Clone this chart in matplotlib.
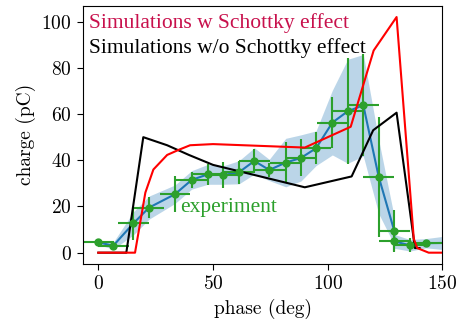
#!/usr/bin/env python3
"""Bunch charge vs. laser phase: measurement against simulations with/without Schottky effect."""

from __future__ import annotations

import matplotlib

matplotlib.use("Agg")
import matplotlib.pyplot as plt
import numpy as np

OUT = "out.png"

# measured charge scan (deg, pC)
exp_phase = [0.0, 6.5, 15.3, 22.1, 33.4, 40.7, 47.7, 54.5, 61.3, 68.0, 74.5,
             81.7, 88.3, 94.9, 102.0, 108.7, 115.5, 122.2, 129.0, 129.0,
             135.8, 142.7, 156.0]
exp_charge = [4.5, 3.0, 12.7, 19.5, 25.3, 31.5, 33.9, 33.6, 34.8, 39.7, 35.8,
              39.0, 41.0, 45.2, 56.3, 61.2, 63.8, 32.9, 9.4, 4.9,
              3.2, 4.1, 4.3]
exp_charge_err = [1.5, 2.0, 7.0, 4.7, 7.8, 3.4, 4.7, 5.8, 5.0, 5.0, 3.0,
                  9.0, 8.0, 7.0, 11.2, 23.0, 22.0, 26.0, 9.0, 4.0,
                  3.0, 1.0, 1.0]
exp_phase_err = 6.7
exp_spread = [1.0, 1.5, 5.0, 5.0, 4.0, 4.0, 4.3, 4.0, 5.0, 5.7, 4.6,
              10.5, 10.0, 7.5, 14.0, 22.5, 22.0, 16.0, 6.0, 3.0,
              2.5, 2.0, 3.5]

# ASTRA runs
sim_schottky_phase = [0.0, 16.0, 20.5, 24.0, 30.0, 35.0, 40.0, 50.0, 90.0,
                      110.0, 120.0, 130.0, 137.5, 139.0, 144.0, 152.0]
sim_schottky_charge = [0.0, 0.0, 26.0, 36.0, 42.3, 44.5, 46.5, 47.0, 45.5,
                       54.5, 87.5, 102.0, 6.0, 2.0, 0.0, 0.0]

sim_plain_phase = [0.0, 12.2, 19.6, 30.0, 39.5, 50.0, 90.0, 110.4, 119.8,
                   130.0, 138.0, 140.0]
sim_plain_charge = [0.0, 0.0, 50.0, 46.5, 42.3, 38.0, 28.3, 33.0, 53.0,
                    60.6, 2.0, 2.0]

plt.rcParams.update(
    {
        "font.family": "cmr10",
        "axes.formatter.use_mathtext": True,
        "font.size": 14,
        "xtick.labelsize": 14,
        "ytick.labelsize": 14,
        "axes.labelsize": 14,
        "xtick.major.size": 4.5,
        "ytick.major.size": 4.5,
    }
)


def main() -> None:
    fig = plt.figure(figsize=(4.58, 3.30), dpi=100)
    ax = fig.add_axes([0.1806, 0.2, 0.7855, 0.7827])

    x = np.array(exp_phase)
    y = np.array(exp_charge)
    s = np.array(exp_spread)
    ax.fill_between(x, y - s, y + s, color="tab:blue", alpha=0.3, linewidth=0)
    ax.plot(x, y, color="tab:blue", lw=1.5)
    ax.errorbar(x, y, xerr=exp_phase_err, yerr=exp_charge_err, fmt="o",
                color="tab:green", ms=5, lw=1.5, capsize=0)

    ax.plot(sim_plain_phase, sim_plain_charge, color="black", lw=1.5)
    ax.plot(sim_schottky_phase, sim_schottky_charge, color="red", lw=1.5)

    serif = "Liberation Serif"
    ax.text(-3.9, 97.1, "Simulations w Schottky effect", color="#c8104c",
            family=serif, fontsize=15.5, va="baseline")
    ax.text(-3.9, 86.3, "Simulations w/o Schottky effect", color="black",
            family=serif, fontsize=15.5, va="baseline")
    ax.text(35.6, 17.7, "experiment", color="tab:green",
            family=serif, fontsize=15.5, va="baseline")

    ax.set_xlim(-6.8, 150)
    ax.set_ylim(-4.9, 106.9)
    ax.set_xticks([0, 50, 100, 150])
    ax.set_yticks([0, 20, 40, 60, 80, 100])
    ax.set_xlabel("phase (deg)")
    ax.set_ylabel("charge (pC)")

    fig.savefig(OUT, dpi=100)
    plt.close(fig)


if __name__ == "__main__":
    main()
